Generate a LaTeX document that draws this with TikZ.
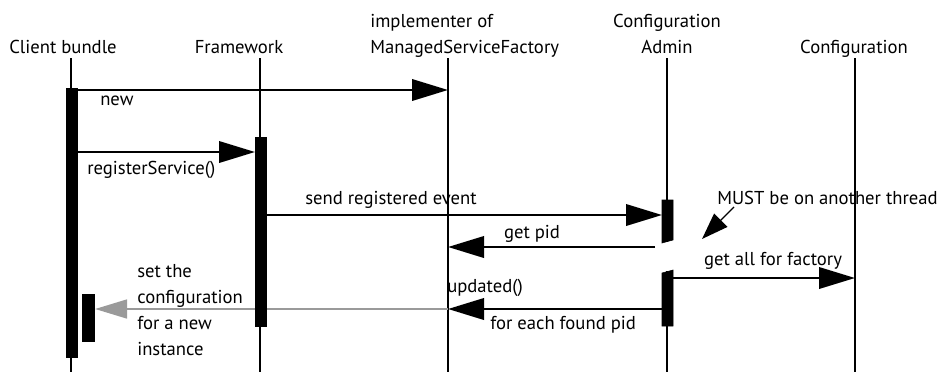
\documentclass[tikz,border=0pt]{standalone}
\usepackage{fontspec}
\setmainfont{PT Sans}
\usetikzlibrary{arrows.meta}
\definecolor{replygray}{HTML}{9A9A9A}
\tikzset{
	lifeline/.style={line width=2pt},
	bar/.style={fill=black},
	msg/.style={line width=2pt, -{Triangle[length=27pt,width=16pt]}},
	lbl/.style={inner sep=0pt, font=\fontsize{14}{16}\selectfont},
}

\begin{document}
\begin{tikzpicture}[x=0.75pt, y=-0.75pt]
			%%%%% START %%%%%
			\useasboundingbox (0, 0) rectangle (941, 372);
			
			% heads
			\node[lbl, anchor=base] (client) at (63, 53) {Client bundle};
			\node[lbl, anchor=base] (fw) at (239, 53) {Framework};
			\node[lbl, anchor=base west] (msf2) at (370, 53) {ManagedServiceFactory};
			\node[lbl, anchor=base west] (msf1) at (370, 27) {implementer of};
			\node[lbl, anchor=base] (ca2) at (667, 53) {Admin};
			\node[lbl, anchor=base] (ca1) at (667, 27) {Configuration};
			\node[lbl, anchor=base] (conf) at (854, 53) {Configuration};
			
			% lifelines
			\draw[lifeline] (71, 58) -- (71, 372);
			\draw[lifeline] (260, 58) -- (260, 372);
			\draw[lifeline] (448, 58) -- (448, 372);
			\draw[lifeline] (667, 58) -- (667, 242);
			\draw[lifeline] (667, 271) -- (667, 372);
			\draw[lifeline] (855, 58) -- (855, 372);
			
			% message ends
			\coordinate (newA) at (77, 90);
			\coordinate (newB) at (448, 90);
			\coordinate (regA) at (77, 152);
			\coordinate (regB) at (255, 152);
			\coordinate (evtA) at (266, 215);
			\coordinate (evtB) at (662, 215);
			\coordinate (pidA) at (655, 247);
			\coordinate (pidB) at (448, 247);
			\coordinate (allA) at (673, 278);
			\coordinate (allB) at (855, 278);
			\coordinate (updA) at (662, 309);
			\coordinate (updB) at (448, 309);
			\coordinate (setB) at (95, 309);
			\coordinate (noteA) at (734, 207);
			\coordinate (noteB) at (702, 239);
			
			% messages
			\draw[msg] (newA) -- (newB);
			\draw[msg] (regA) -- (regB);
			\draw[msg] (evtA) -- (evtB);
			\draw[msg] (pidA) -- (pidB);
			\draw[msg] (allA) -- (allB);
			\draw[msg] (updA) -- (updB);
			\draw[msg, replygray, -{Triangle[length=24pt,width=14pt]}] (updB) -- (setB);
			\draw[line width=1pt, -{Triangle[length=20pt,width=14pt]}] (noteA) -- (noteB);
			
			% activations
			\draw[bar] (66, 88) rectangle (77, 357);
			\draw[bar] (255, 137) rectangle (266, 326);
			\draw[bar] (662, 200) -- (673, 200) -- (673, 240) -- (662, 243) -- cycle;
			\draw[bar] (662, 273) -- (673, 270) -- (673, 326) -- (662, 326) -- cycle;
			\draw[bar] (82, 294) rectangle (94, 341);
			
			% labels
			\node[lbl, anchor=west] (lnew) at (100, 101) {new};
			\node[lbl, anchor=west] (lreg) at (87, 170) {registerService()};
			\node[lbl] (levt) at (391, 200) {send registered event};
			\node[lbl] (lpid) at (532, 234) {get pid};
			\node[lbl, anchor=west] (lnote) at (717, 198) {MUST be on another thread};
			\node[lbl] (lall) at (773, 261) {get all for factory};
			\node[lbl, anchor=west] (lupd) at (447, 288) {updated()};
			\node[lbl, anchor=west] (leach) at (490, 325) {for each found pid};
			\node[lbl, anchor=west, align=left, font=\fontsize{14}{19.5}\selectfont] (lset) at (137, 310) {set the\\configuration\\for a new\\instance};
			%%%%% END %%%%%
\end{tikzpicture}
\end{document}
